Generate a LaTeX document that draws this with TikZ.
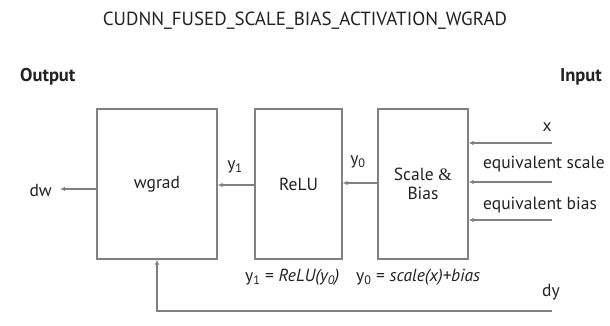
\documentclass[tikz,border=0pt]{standalone}
\usepackage{fontspec}
\setmainfont{PT Sans}
\newfontfamily\ampfont{Liberation Serif}
\usetikzlibrary{arrows.meta}
\definecolor{linegray}{HTML}{808080}
\definecolor{txt}{HTML}{222222}
\begin{document}
\begin{tikzpicture}[x=1pt,y=-1pt,
  every node/.style={text=txt,font=\fontsize{17.5}{20}\selectfont,inner sep=0pt},
  blockbox/.style={draw=linegray,line width=1.3pt,fill=white},
  conn/.style={draw=linegray,line width=1.2pt,-{Latex[length=5pt,width=4.5pt]}},
  heading/.style={font=\fontsize{18.5}{21}\selectfont\bfseries}]
\useasboundingbox (0,0) rectangle (610,325);
% title
\node[font=\fontsize{19}{22}\selectfont] (title) at (305,21) {CUDNN\_FUSED\_SCALE\_BIAS\_ACTIVATION\_WGRAD};
\node[heading,anchor=west] (output) at (20,77) {Output};
\node[heading,anchor=east] (input) at (602,77) {Input};
% blocks
\node[blockbox,minimum width=120pt,minimum height=150pt] (wgrad) at (157,184) {wgrad};
\node[blockbox,minimum width=87pt,minimum height=150pt] (relu) at (298.5,184) {ReLU};
\node[blockbox,minimum width=90pt,minimum height=150pt,align=center] (sb) at (423,184) {Scale {\ampfont\&}\\[-1pt]Bias};
% coordinates
\coordinate (dwend) at (60,189);
\coordinate (xin) at (552,143);
\coordinate (sin) at (552,182);
\coordinate (bin) at (552,220);
\coordinate (dyin) at (552,311);
% connectors
\draw[conn] (wgrad.west|-dwend) -- (dwend);
\draw[conn] (relu.west|-0,185) -- (wgrad.east|-0,185);
\draw[conn] (sb.west|-0,183) -- (relu.east|-0,183);
\draw[conn] (xin) -- (sb.east|-xin);
\draw[conn] (sin) -- (sb.east|-sin);
\draw[conn] (bin) -- (sb.east|-bin);
\draw[conn] (dyin) -| (wgrad.south);
% labels
\node[anchor=east] (dw) at (52,190) {dw};
\node (y1) at (235,167) {y\textsubscript{1}};
\node (y0) at (358,162) {y\textsubscript{0}};
\node (xl) at (547,127) {x};
\node[anchor=west] (eqs) at (483,164) {equivalent scale};
\node[anchor=west] (eqb) at (483,205) {equivalent bias};
\node (dyl) at (551,292) {dy};
\node[anchor=west] (f1) at (245,277) {y\textsubscript{1} = \textit{ReLU(y\textsubscript{0})}};
\node[anchor=west] (f2) at (356,277) {y\textsubscript{0} = \textit{scale(x)+bias}};
\end{tikzpicture}
\end{document}
